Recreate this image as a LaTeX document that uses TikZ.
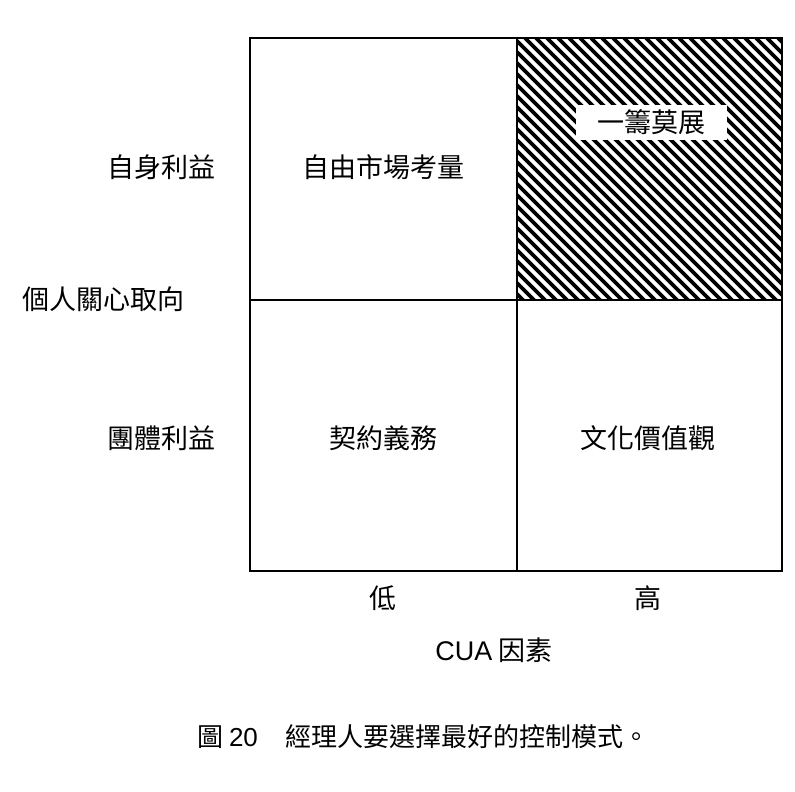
\documentclass[tikz,border=0pt]{standalone}
\usepackage{fontspec}
\setmainfont{Noto Sans CJK TC}
\newfontfamily\latinfont{Liberation Sans}
\begin{document}
\begin{tikzpicture}[x=1pt,y=-1pt,
  grid/.style={line width=2.8pt},
  lbl/.style={font=\fontsize{27}{31}\selectfont, inner sep=0pt},
  caplbl/.style={font=\fontsize{26}{30}\selectfont, inner sep=0pt},
  hatchline/.style={line width=3.8pt}]
\useasboundingbox (0,0) rectangle (795,792);
% hatching in top-right cell
\begin{scope}
  \clip (517,38) rectangle (782,300);
  \foreach \i in {-300,-289,...,300} {
    \draw[hatchline] (517+\i,38) -- (517+\i+300,338);
  }
\end{scope}
% white label box
\fill[white] (576,105) rectangle (727,140);
\node[lbl] (hatchlbl) at (651,122) {一籌莫展};
% grid
\coordinate (tl) at (250,38);
\coordinate (br) at (782,571);
\coordinate (tm) at (517,38);
\coordinate (bm) at (517,571);
\coordinate (ml) at (250,300);
\coordinate (mr) at (782,300);
\draw[grid] (tl) rectangle (br);
\draw[grid] (tm) -- (bm);
\draw[grid] (ml) -- (mr);
% cell labels
\node[lbl] (c1) at (383,167) {自由市場考量};
\node[lbl] (c3) at (383,438) {契約義務};
\node[lbl] (c4) at (648,438) {文化價值觀};
% row labels
\node[lbl, anchor=east] (r1) at (216,167) {自身利益};
\node[lbl, anchor=east] (r2) at (216,438) {團體利益};
\node[lbl] (rt) at (104,299) {個人關心取向};
% column labels
\node[lbl] (lo) at (383,598) {低};
\node[lbl] (hi) at (648,598) {高};
\node[lbl] (cua) at (494,650) {{\latinfont CUA} 因素};
% caption
\node[caplbl, anchor=west] (cap) at (197,737) {圖 {\latinfont 20}\hspace{1.05em}經理人要選擇最好的控制模式。};
\end{tikzpicture}
\end{document}
